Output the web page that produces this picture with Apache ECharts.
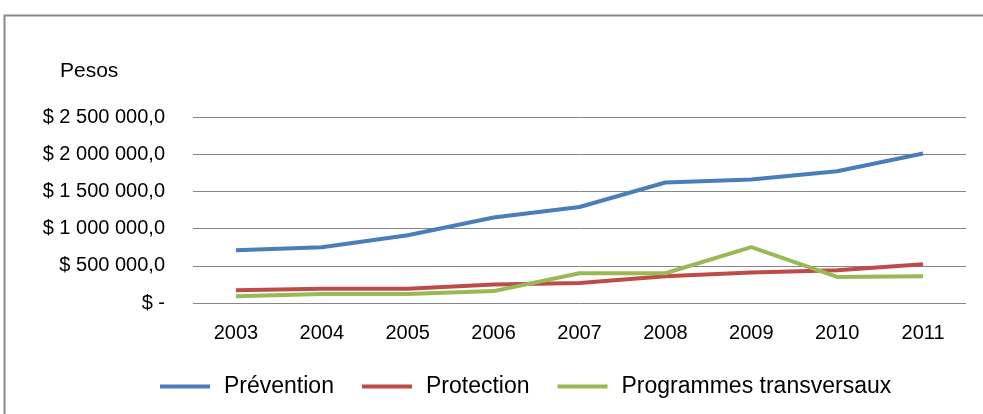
<!DOCTYPE html>
<html>
<head>
<meta charset="utf-8">
<script src="https://cdn.jsdelivr.net/npm/echarts@6/dist/echarts.min.js"></script>
<style>
html, body { margin: 0; padding: 0; background: #fff; }
#main { width: 983px; height: 414px; }
</style>
</head>
<body>
<div id="main"></div>
<script>
// données
var years = ['2003', '2004', '2005', '2006', '2007', '2008', '2009', '2010', '2011'];
var prevention = [710000, 750000, 910000, 1150000, 1290000, 1620000, 1660000, 1770000, 2010000];
var protection = [170000, 190000, 190000, 250000, 270000, 360000, 410000, 440000, 520000];
var programmes = [90000, 120000, 120000, 160000, 400000, 400000, 750000, 350000, 360000];

var myChart = echarts.init(document.getElementById('main'));

function fmtPesos(v) {
    if (v === 0) return '$ -';
    var s = String(Math.round(v)).replace(/\B(?=(\d{3})+(?!\d))/g, ' ');
    return '$ ' + s + ',0';
}

var font = 'Liberation Sans, Arial, sans-serif';

var option = {
    backgroundColor: '#fff',
    textStyle: { fontFamily: font },
    graphic: [{
        type: 'rect',
        shape: { x: 4.5, y: 15.5, width: 1000, height: 420 },
        style: { fill: 'none', stroke: '#8a8a8a', lineWidth: 2 },
        silent: true
    }, {
        type: 'text',
        left: 60, top: 61,
        style: { text: 'Pesos', font: '21px ' + font, fill: '#000' }
    }],
    grid: { left: 193, right: 17, top: 117, bottom: 111 },
    legend: {
        top: 370,
        left: 155,
        itemWidth: 50,
        itemHeight: 4,
        itemGap: 28,
        icon: 'rect',
        textStyle: { fontSize: 23, color: '#000', fontFamily: font, padding: [0, 0, 0, 9] },
        data: ['Prévention', 'Protection', 'Programmes transversaux']
    },
    xAxis: {
        type: 'category',
        data: years,
        boundaryGap: true,
        axisLine: { show: false },
        axisTick: { show: false },
        axisLabel: { fontSize: 20, color: '#000', margin: 20 }
    },
    yAxis: {
        type: 'value',
        min: 0, max: 2500000, interval: 500000,
        axisLine: { show: false },
        axisTick: { show: false },
        splitLine: { lineStyle: { color: '#868686', width: 1 } },
        axisLabel: { fontSize: 20, color: '#000', margin: 28, formatter: fmtPesos }
    },
    series: [
        { name: 'Prévention', type: 'line', data: prevention, symbol: 'none',
          itemStyle: { color: '#4A7EBB' }, lineStyle: { width: 4, color: '#4A7EBB' } },
        { name: 'Protection', type: 'line', data: protection, symbol: 'none',
          itemStyle: { color: '#BE4B48' }, lineStyle: { width: 4, color: '#BE4B48' } },
        { name: 'Programmes transversaux', type: 'line', data: programmes, symbol: 'none',
          itemStyle: { color: '#98B954' }, lineStyle: { width: 4, color: '#98B954' } }
    ]
};

myChart.setOption(option);
</script>
</body>
</html>
